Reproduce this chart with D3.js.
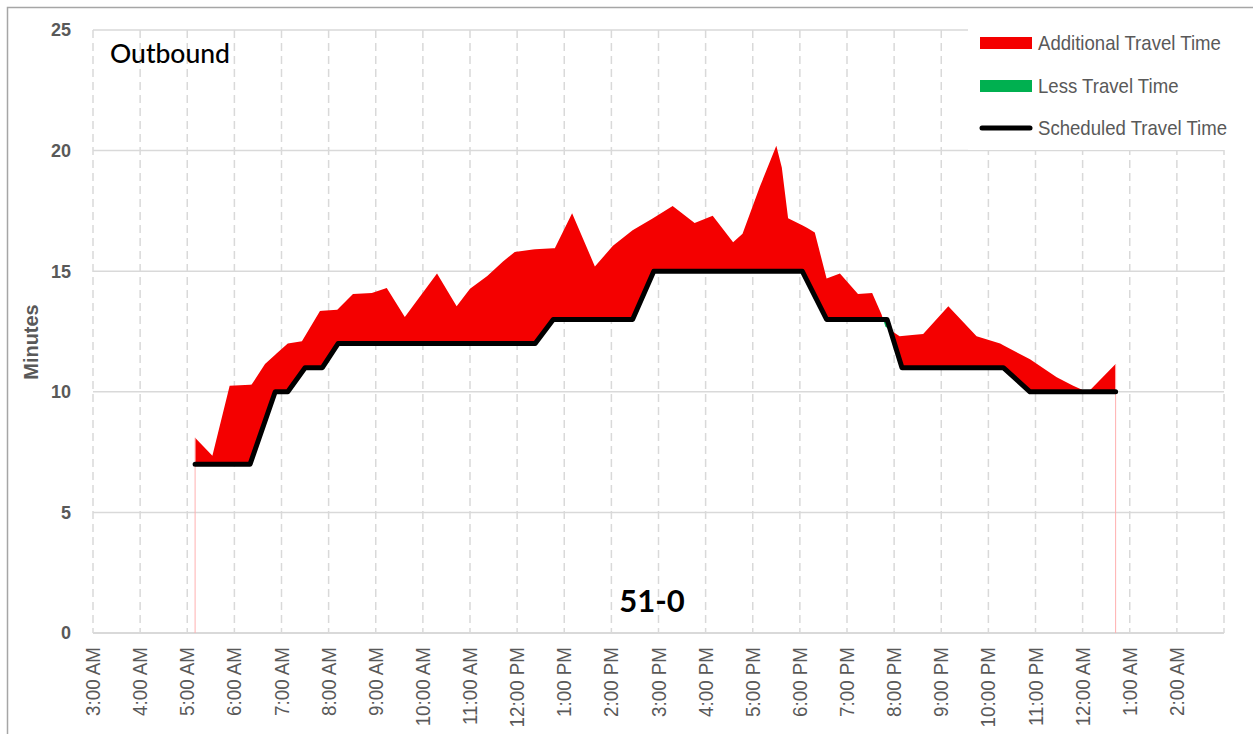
<!DOCTYPE html>
<html>
<head>
<meta charset="utf-8">
<script src="https://cdn.jsdelivr.net/npm/d3@7"></script>
<style>
    body { margin: 0; background: #fff; }
    #chart { width: 1253px; height: 734px; }
    .narrow { font-family: "Liberation Sans", Arial, sans-serif; }
</style>
</head>
<body>
<div id="chart"></div>
<script>
//Datos
const hourLabels = ['3:00 AM','4:00 AM','5:00 AM','6:00 AM','7:00 AM','8:00 AM','9:00 AM','10:00 AM','11:00 AM',
    '12:00 PM','1:00 PM','2:00 PM','3:00 PM','4:00 PM','5:00 PM','6:00 PM','7:00 PM','8:00 PM','9:00 PM',
    '10:00 PM','11:00 PM','12:00 AM','1:00 AM','2:00 AM'];
const yTicks = [0, 5, 10, 15, 20, 25];

const schedTimes = ['5:10 AM','6:20 AM','6:52 AM','7:08 AM','7:30 AM','7:52 AM','8:12 AM','12:23 PM','12:46 PM',
    '2:27 PM','2:54 PM','6:03 PM','6:34 PM','7:51 PM','8:10 PM','10:19 PM','10:53 PM','12:42 AM'];
const schedValues = [7, 7, 10, 10, 11, 11, 12, 12, 13, 13, 15, 15, 13, 13, 11, 11, 10, 10];

const actualTimes = ['5:10 AM','5:32 AM','5:54 AM','6:22 AM','6:39 AM','6:54 AM','7:08 AM','7:26 AM','7:49 AM',
    '8:11 AM','8:31 AM','8:55 AM','9:14 AM','9:37 AM','10:18 AM','10:43 AM','11:00 AM','11:22 AM','11:42 AM',
    '11:57 AM','12:20 PM','12:48 PM','1:10 PM','1:39 PM','2:02 PM','2:27 PM','2:53 PM','3:18 PM','3:46 PM',
    '4:09 PM','4:35 PM','4:47 PM','5:09 PM','5:30 PM','5:37 PM','5:45 PM','6:09 PM','6:19 PM','6:34 PM',
    '6:51 PM','7:14 PM','7:32 PM','7:44 PM','7:49 PM','8:07 PM','8:23 PM','8:37 PM','9:09 PM','9:45 PM',
    '10:15 PM','10:53 PM','11:27 PM','11:48 PM','12:05 AM','12:09 AM','12:42 AM'];
const actualValues = [8.1, 7.35, 10.25, 10.3, 11.15, 11.6, 12.0, 12.1, 13.35,
    13.4, 14.05, 14.1, 14.3, 13.1, 14.9, 13.55, 14.27, 14.8, 15.4,
    15.8, 15.9, 15.95, 17.4, 15.2, 16.05, 16.7, 17.2, 17.7, 17.0,
    17.3, 16.2, 16.55, 18.5, 20.2, 19.3, 17.2, 16.8, 16.6, 14.7,
    14.9, 14.05, 14.1, 13.2, 12.7, 12.3, 12.35, 12.4, 13.55, 12.3,
    12.0, 11.35, 10.6, 10.25, 10.0, 10.05, 11.15];

//Colores
const COLOR_RED = '#f40000',
    COLOR_GREEN = '#00b050',
    COLOR_GRID = '#d9d9d9',
    COLOR_TEXT = '#595959';

//Horas: el día de servicio empieza a las 3:00 AM
let parseClock = d3.timeParse('%I:%M %p');
function toTime(str) {
    let p = parseClock(str);
    let d = new Date(2024, 0, 1, p.getHours(), p.getMinutes());
    if (p.getHours() < 3) { d = d3.timeDay.offset(d, 1); }
    return d;
}

let sched = schedTimes.map(function(t, i) { return { t: toTime(t), v: schedValues[i] }; });
let actual = actualTimes.map(function(t, i) { return { t: toTime(t), v: actualValues[i] }; });

function interp(series, t) {
    let i = d3.bisector(function(d) { return d.t; }).left(series, t);
    if (i <= 0) return series[0].v;
    if (i >= series.length) return series[series.length - 1].v;
    let a = series[i - 1], b = series[i];
    let f = (t - a.t) / (b.t - a.t);
    return a.v + (b.v - a.v) * f;
}

//Rejilla común de tiempos + cruces entre las dos series
let t0 = Math.max(sched[0].t, actual[0].t), t1 = Math.min(sched[sched.length - 1].t, actual[actual.length - 1].t);
let grid = Array.from(new Set(sched.concat(actual).map(function(d) { return +d.t; })))
    .filter(function(t) { return t >= t0 && t <= t1; })
    .sort(function(a, b) { return a - b; });
let pts = [];
grid.forEach(function(t, i) {
    let s = interp(sched, t), a = interp(actual, t);
    if (i > 0) {
        let tp = grid[i - 1];
        let dp = interp(actual, tp) - interp(sched, tp), dc = a - s;
        if (dp * dc < 0) {
            let tc = tp + (t - tp) * dp / (dp - dc);
            let sc = interp(sched, tc);
            pts.push({ t: new Date(tc), s: sc, a: sc });
        }
    }
    pts.push({ t: new Date(t), s: s, a: a });
});

//Gráfico
let width = 1253, height = 734;
let svg = d3.select('#chart').append('svg')
    .attr('width', width)
    .attr('height', height);

let x = d3.scaleTime()
    .domain([new Date(2024, 0, 1, 3, 0), new Date(2024, 0, 2, 3, 0)])
    .range([93, 1224]);
let y = d3.scaleLinear()
    .domain([0, 25])
    .range([633, 30]);

//Marco
svg.append('path')
    .attr('d', 'M7.5,' + height + 'V7.5H' + width)
    .attr('fill', 'none')
    .attr('stroke', '#a6a6a6')
    .attr('stroke-width', 1.5);

//Líneas horizontales
svg.append('g')
    .selectAll('line')
    .data(yTicks)
    .enter().append('line')
    .attr('x1', x.range()[0]).attr('x2', x.range()[1])
    .attr('y1', function(d) { return y(d); }).attr('y2', function(d) { return y(d); })
    .attr('stroke', COLOR_GRID)
    .attr('stroke-width', function(d) { return d == 0 ? 2 : 1.5; });

//Líneas verticales discontinuas
let hourTimes = hourLabels.map(toTime).concat([x.domain()[1]]);
svg.append('g')
    .selectAll('line')
    .data(hourTimes)
    .enter().append('line')
    .attr('x1', function(d) { return x(d); }).attr('x2', function(d) { return x(d); })
    .attr('y1', y(25)).attr('y2', y(0))
    .attr('stroke', COLOR_GRID)
    .attr('stroke-width', 1.5)
    .attr('stroke-dasharray', '8,5');

//Eje Y
svg.append('g')
    .selectAll('text')
    .data(yTicks)
    .enter().append('text')
    .attr('class', 'narrow')
    .attr('x', 71)
    .attr('y', function(d) { return y(d); })
    .attr('dy', '0.35em')
    .attr('text-anchor', 'end')
    .attr('font-size', 18)
    .attr('font-weight', 'bold')
    .attr('fill', COLOR_TEXT)
    .text(function(d) { return d; });

svg.append('text')
    .attr('class', 'narrow')
    .attr('transform', 'translate(31,342) rotate(-90) scale(0.95,1)')
    .attr('dy', '0.35em')
    .attr('text-anchor', 'middle')
    .attr('font-size', 21)
    .attr('font-weight', 'bold')
    .attr('fill', COLOR_TEXT)
    .text('Minutes');

//Eje X
svg.append('g')
    .selectAll('text')
    .data(hourLabels)
    .enter().append('text')
    .attr('class', 'narrow')
    .attr('transform', function(d) { return 'translate(' + x(toTime(d)) + ',647) rotate(-90) scale(0.94,1)'; })
    .attr('dy', '0.35em')
    .attr('text-anchor', 'end')
    .attr('font-size', 20)
    .attr('fill', COLOR_TEXT)
    .text(function(d) { return d; });

//Áreas
let redArea = d3.area()
    .x(function(d) { return x(d.t); })
    .y0(function(d) { return y(d.s); })
    .y1(function(d) { return y(Math.max(d.a, d.s)); });
let greenArea = d3.area()
    .x(function(d) { return x(d.t); })
    .y0(function(d) { return y(d.s); })
    .y1(function(d) { return y(Math.min(d.a, d.s)); });

svg.append('path').datum(pts).attr('d', redArea).attr('fill', COLOR_RED);
svg.append('path').datum(pts).attr('d', greenArea).attr('fill', COLOR_GREEN);

//Bordes finos de la serie hasta cero
[actual[0], actual[actual.length - 1]].forEach(function(d) {
    svg.append('line')
        .attr('x1', x(d.t)).attr('x2', x(d.t))
        .attr('y1', y(0)).attr('y2', y(d.v))
        .attr('stroke', '#ffb0b0')
        .attr('stroke-width', 1);
});

//Línea programada
let line = d3.line()
    .x(function(d) { return x(d.t); })
    .y(function(d) { return y(d.v); });
svg.append('path').datum(sched)
    .attr('d', line)
    .attr('fill', 'none')
    .attr('stroke', '#000')
    .attr('stroke-width', 5)
    .attr('stroke-linejoin', 'round')
    .attr('stroke-linecap', 'round');

//Textos
svg.append('text')
    .attr('x', 110).attr('y', 63)
    .attr('font-family', 'Lato, "Open Sans", sans-serif')
    .attr('font-size', 26.5)
    .attr('font-weight', 500)
    .attr('fill', '#000')
    .text('Outbound');

svg.append('text')
    .attr('x', 652).attr('y', 612)
    .attr('text-anchor', 'middle')
    .attr('font-family', 'Lato, "Open Sans", sans-serif')
    .attr('font-size', 31)
    .attr('font-weight', 'bold')
    .attr('fill', '#000')
    .text('51-0');

//Leyenda
let legend = svg.append('g');
legend.append('rect')
    .attr('x', 968).attr('y', 28).attr('width', 265).attr('height', 122)
    .attr('fill', '#fff');

let legendItems = [
    { label: 'Additional Travel Time', type: 'rect', color: COLOR_RED, cy: 43 },
    { label: 'Less Travel Time', type: 'rect', color: COLOR_GREEN, cy: 86 },
    { label: 'Scheduled Travel Time', type: 'line', color: '#000', cy: 128 }
];
legendItems.forEach(function(d) {
    if (d.type == 'rect') {
        legend.append('rect')
            .attr('x', 980).attr('y', d.cy - 6).attr('width', 52).attr('height', 12)
            .attr('fill', d.color);
    } else {
        legend.append('line')
            .attr('x1', 982).attr('x2', 1030).attr('y1', d.cy).attr('y2', d.cy)
            .attr('stroke', d.color).attr('stroke-width', 5).attr('stroke-linecap', 'round');
    }
    legend.append('text')
        .attr('class', 'narrow')
        .attr('transform', 'translate(1038,' + d.cy + ') scale(0.93,1)')
        .attr('dy', '0.35em')
        .attr('font-size', 20)
        .attr('fill', COLOR_TEXT)
        .text(d.label);
});
</script>
</body>
</html>
